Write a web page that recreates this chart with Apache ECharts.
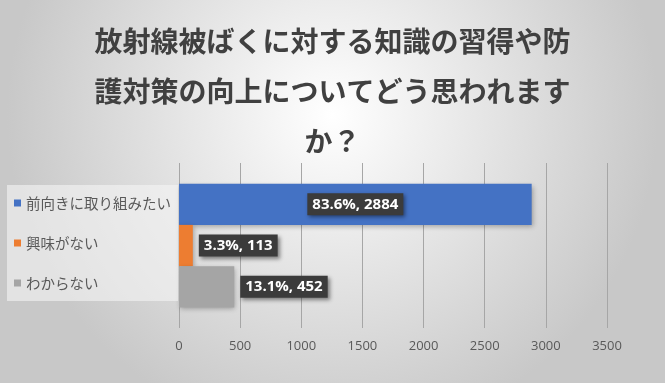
<!DOCTYPE html>
<html>
<head>
<meta charset="utf-8">
<script src="https://cdn.jsdelivr.net/npm/echarts@6/dist/echarts.min.js"></script>
<style>
html,body{margin:0;padding:0;}
#c{width:665px;height:383px;}
</style>
</head>
<body>
<div id="c"></div>
<script>
const titleText = '放射線被ばくに対する知識の習得や防\n護対策の向上についてどう思われます\nか？';
const seriesNames = ['前向きに取り組みたい', '興味がない', 'わからない'];
const seriesValues = [2884, 113, 452];
const seriesPercents = ['83.6%', '3.3%', '13.1%'];
const seriesColors = ['#4472C4', '#ED7D31', '#A5A5A5'];
const xTicks = [0, 500, 1000, 1500, 2000, 2500, 3000, 3500];

const chart = echarts.init(document.getElementById('c'));

const labelBox = {
  color: '#ffffff',
  fontFamily: 'Open Sans',
  fontWeight: 'bold',
  fontSize: 15,
  backgroundColor: '#3b3b3b',
  padding: [4, 5, 3, 5],
  shadowColor: 'rgba(0,0,0,0.45)',
  shadowBlur: 4,
  shadowOffsetX: 2,
  shadowOffsetY: 2
};

const series = seriesNames.map((name, i) => ({
  name: name,
  type: 'bar',
  barGap: '0%',
  barCategoryGap: '25%',
  data: [seriesValues[i]],
  itemStyle: {
    color: seriesColors[i],
    shadowColor: 'rgba(0,0,0,0.3)',
    shadowBlur: 5,
    shadowOffsetX: 1,
    shadowOffsetY: 2
  },
  label: Object.assign({
    show: true,
    position: i === 0 ? 'inside' : 'right',
    distance: 6,
    formatter: () => seriesPercents[i] + ', ' + seriesValues[i]
  }, labelBox)
}));

chart.setOption({
  backgroundColor: {
    type: 'radial', x: 0.5, y: 0.3, r: 0.85,
    colorStops: [
      { offset: 0, color: '#ffffff' },
      { offset: 1, color: '#c8c8c8' }
    ]
  },
  title: {
    text: titleText,
    left: 'center',
    top: 11,
    textStyle: {
      fontFamily: 'Noto Sans CJK JP',
      fontSize: 28,
      fontWeight: 'bold',
      color: '#404040',
      lineHeight: 50,
      align: 'center'
    }
  },
  legend: {
    orient: 'vertical',
    left: 7,
    top: 185,
    data: seriesNames,
    icon: 'rect',
    itemWidth: 7,
    itemHeight: 7,
    itemGap: 24,
    padding: [10, 7, 10, 7],
    backgroundColor: 'rgba(245,245,245,0.6)',
    selectedMode: false,
    textStyle: {
      fontFamily: 'Noto Sans CJK JP',
      fontSize: 14.5,
      lineHeight: 16,
      color: '#595959'
    }
  },
  grid: { left: 179, right: 58, top: 163, bottom: 55 },
  xAxis: {
    type: 'value',
    min: 0,
    max: 3500,
    interval: 500,
    axisLine: { show: false },
    axisTick: { show: false },
    splitLine: { lineStyle: { color: '#a6a6a6', width: 1 } },
    axisLabel: {
      color: '#595959',
      fontFamily: 'Open Sans',
      fontSize: 13,
      margin: 12,
      formatter: v => xTicks.includes(v) ? String(v) : ''
    }
  },
  yAxis: {
    type: 'category',
    data: [''],
    axisLine: { show: false },
    axisTick: { show: false },
    axisLabel: { show: false }
  },
  series: series
});
</script>
</body>
</html>
